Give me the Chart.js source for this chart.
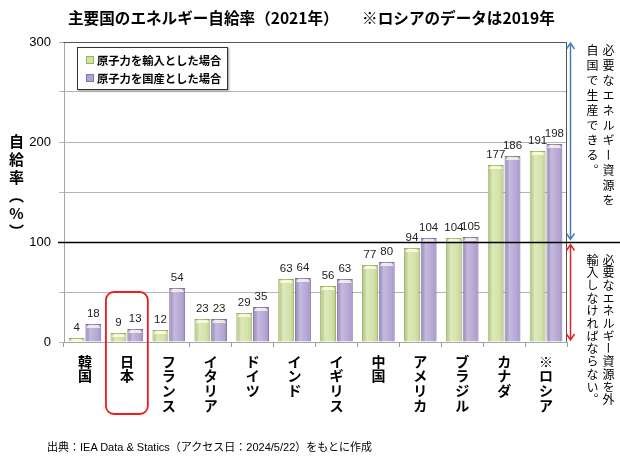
<!DOCTYPE html>
<html>
<head>
<meta charset="utf-8">
<script src="https://cdn.jsdelivr.net/npm/chart.js@4.4.1/dist/chart.umd.min.js"></script>
<style>
body { margin: 0; background: #fff; font-family: "Noto Sans CJK JP", sans-serif; }
#wrap { position: relative; width: 620px; height: 460px; overflow: hidden; }
#chart { position: absolute; left: 0; top: 0; }
.title { position: absolute; top: 6px; left: 68px; font-weight: bold; font-size: 15.6px; white-space: pre; color: #000; }
.source { position: absolute; top: 438px; left: 47px; font-size: 11px; color: #000; white-space: pre; font-family: "Liberation Sans", "Noto Sans CJK JP", sans-serif; }
.ytitle { position: absolute; left: 6px; top: 134px; writing-mode: vertical-rl; text-orientation: upright; font-weight: bold; font-size: 15px; letter-spacing: 3px; }
.side { position: absolute; writing-mode: vertical-rl; font-size: 12px; line-height: 16px; color: #000; }
.legend { position: absolute; left: 77px; top: 47px; width: 149px; height: 41px; border: 1px solid #333; background: #fff; box-shadow: 1px 1px 2px #999; font-weight: bold; font-size: 11.3px; }
.legend div { position: absolute; left: 8px; white-space: nowrap; }
.legend span { display: inline-block; width: 6px; height: 6px; margin-right: 3px; vertical-align: 1px; }
</style>
</head>
<body>
<div id="wrap">
  <canvas id="chart" width="620" height="460"></canvas>
  <div class="title">主要国のエネルギー自給率（2021年）　　※ロシアのデータは2019年</div>
  <div class="ytitle">自給率（%）</div>
  <div class="legend" id="legend"></div>
  <div class="side" style="left:584px; top:44px; letter-spacing:3px;">必要なエネルギー資源を<br>自国で生産できる。</div>
  <div class="side" style="left:584px; top:254px; letter-spacing:0.7px;">必要なエネルギー資源を外<br>輸入しなければならない。</div>
  <div class="source">出典：IEA Data &amp; Statics（アクセス日：2024/5/22）をもとに作成</div>
</div>
<script>
const countries = ['韓国', '日本', 'フランス', 'イタリア', 'ドイツ', 'インド', 'イギリス', '中国', 'アメリカ', 'ブラジル', 'カナダ', '※ロシア'];
const importNuclear = [4, 9, 12, 23, 29, 63, 56, 77, 94, 104, 177, 191];
const domesticNuclear = [18, 13, 54, 23, 35, 64, 63, 80, 104, 105, 186, 198];
const seriesNames = ['原子力を輸入とした場合', '原子力を国産とした場合'];
const yTicks = [0, 100, 200, 300];
const gridValues = [0, 50, 100, 150, 200, 250, 300];
const borderLine = 100;
const highlightIndex = 1;

const greenFill = '#d1e2a3';
const greenEdge = '#9bb55a';
const purpleFill = '#b3a3d4';
const purpleEdge = '#8470aa';

// legend
const legend = document.getElementById('legend');
legend.innerHTML = `
  <div style="top:4px"><span style="background:${greenFill};border:1px solid ${greenEdge}"></span>${seriesNames[0]}</div>
  <div style="top:22px"><span style="background:${purpleFill};border:1px solid ${purpleEdge}"></span>${seriesNames[1]}</div>
`;

const extras = {
    id: 'extras',
    afterDatasetsDraw(chart) {
        const ctx = chart.ctx;
        const area = chart.chartArea;
        const x = chart.scales.x;
        const y = chart.scales.y;

        // 3d-ish shading on the bars
        chart.data.datasets.forEach((ds, di) => {
            const meta = chart.getDatasetMeta(di);
            meta.data.forEach(bar => {
                const l = bar.x - bar.width / 2;
                const r = bar.x + bar.width / 2;
                const g = ctx.createLinearGradient(l, 0, r, 0);
                g.addColorStop(0, 'rgba(0,0,0,0.10)');
                g.addColorStop(0.3, 'rgba(255,255,255,0.25)');
                g.addColorStop(0.7, 'rgba(255,255,255,0.05)');
                g.addColorStop(1, 'rgba(0,0,0,0.15)');
                ctx.save();
                ctx.fillStyle = g;
                ctx.fillRect(l + 1, bar.y, bar.width - 2, bar.base - bar.y);
                ctx.fillStyle = 'rgba(255,255,230,0.75)';
                ctx.beginPath();
                ctx.moveTo(l + 1, bar.y + 4);
                ctx.lineTo(l + 3, bar.y + 1);
                ctx.lineTo(r - 3, bar.y + 1);
                ctx.lineTo(r - 1, bar.y + 4);
                ctx.closePath();
                ctx.fill();
                ctx.restore();
            });
        });

        // value labels
        ctx.save();
        ctx.font = '11.5px "Liberation Sans", sans-serif';
        ctx.fillStyle = '#222';
        ctx.textAlign = 'center';
        ctx.textBaseline = 'bottom';
        chart.data.datasets.forEach((ds, di) => {
            chart.getDatasetMeta(di).data.forEach((bar, i) => {
                ctx.fillText(ds.data[i], bar.x, bar.y - 4);
            });
        });
        ctx.restore();

        // plot frame
        ctx.save();
        ctx.strokeStyle = '#555';
        ctx.lineWidth = 1;
        ctx.beginPath();
        ctx.moveTo(area.left - 0.5, area.top + 0.5);
        ctx.lineTo(area.right - 0.5, area.top + 0.5);
        ctx.lineTo(area.right - 0.5, area.bottom);
        ctx.stroke();

        // black line at 100
        const y100 = Math.round(y.getPixelForValue(borderLine)) + 0.5;
        ctx.strokeStyle = '#000';
        ctx.lineWidth = 1.6;
        ctx.beginPath();
        ctx.moveTo(area.left - 6, y100);
        ctx.lineTo(chart.width, y100);
        ctx.stroke();

        // arrows
        const ax = area.right + 3.5;
        function arrow(y1, y2, color) {
            ctx.strokeStyle = color;
            ctx.lineWidth = 1.5;
            ctx.beginPath();
            ctx.moveTo(ax, y1);
            ctx.lineTo(ax, y2);
            ctx.moveTo(ax - 4, y1 + 6);
            ctx.lineTo(ax, y1);
            ctx.lineTo(ax + 4, y1 + 6);
            ctx.moveTo(ax - 4, y2 - 6);
            ctx.lineTo(ax, y2);
            ctx.lineTo(ax + 4, y2 - 6);
            ctx.stroke();
        }
        arrow(y.getPixelForValue(y.max) + 1, y100 - 3, '#4a7ebb');
        arrow(y100 + 2, y.getPixelForValue(0) - 2, '#e8231f');

        // red box round Japan
        const step = (area.right - area.left) / countries.length;
        const cx = x.getPixelForValue(highlightIndex);
        const bx = cx - step / 2;
        const by = y.getPixelForValue(50);
        const bw = step;
        const bh = area.bottom - by + 72;
        ctx.strokeStyle = '#ee1c1c';
        ctx.lineWidth = 1.8;
        ctx.beginPath();
        ctx.roundRect(bx, by, bw, bh, 8);
        ctx.stroke();
        ctx.restore();
    }
};

new Chart(document.getElementById('chart'), {
    type: 'bar',
    data: {
        labels: countries.map(c => [...c]),
        datasets: [
            {
                label: seriesNames[0],
                data: importNuclear,
                backgroundColor: greenFill,
                borderColor: greenEdge,
                borderWidth: 1,
                categoryPercentage: 0.8,
                barPercentage: 0.95
            },
            {
                label: seriesNames[1],
                data: domesticNuclear,
                backgroundColor: purpleFill,
                borderColor: purpleEdge,
                borderWidth: 1,
                categoryPercentage: 0.8,
                barPercentage: 0.95
            }
        ]
    },
    options: {
        responsive: false,
        animation: false,
        layout: {
            padding: { left: 14, top: 42, right: 53, bottom: 28 }
        },
        plugins: {
            legend: { display: false },
            tooltip: { enabled: false }
        },
        scales: {
            x: {
                afterFit: s => { s.height = 90; },
                grid: {
                    offset: true,
                    drawOnChartArea: false,
                    tickLength: 5,
                    color: '#999'
                },
                border: { color: '#a6a6a6' },
                ticks: {
                    maxRotation: 0,
                    autoSkip: false,
                    padding: 7,
                    color: '#000',
                    font: { family: '"Noto Sans CJK JP", sans-serif', size: 14, weight: 'bold', lineHeight: 1.05 }
                }
            },
            y: {
                min: 0,
                max: 300,
                afterFit: s => { s.width = 50; },
                afterBuildTicks: s => {
                    s.ticks = gridValues.map(v => ({ value: v }));
                },
                grid: {
                    color: '#b5b5b5',
                    tickLength: 5
                },
                border: { color: '#a6a6a6' },
                ticks: {
                    padding: 8,
                    color: '#000',
                    font: { family: '"Liberation Sans", sans-serif', size: 13 },
                    callback: v => yTicks.includes(v) ? v : ''
                }
            }
        }
    },
    plugins: [extras]
});
</script>
</body>
</html>
